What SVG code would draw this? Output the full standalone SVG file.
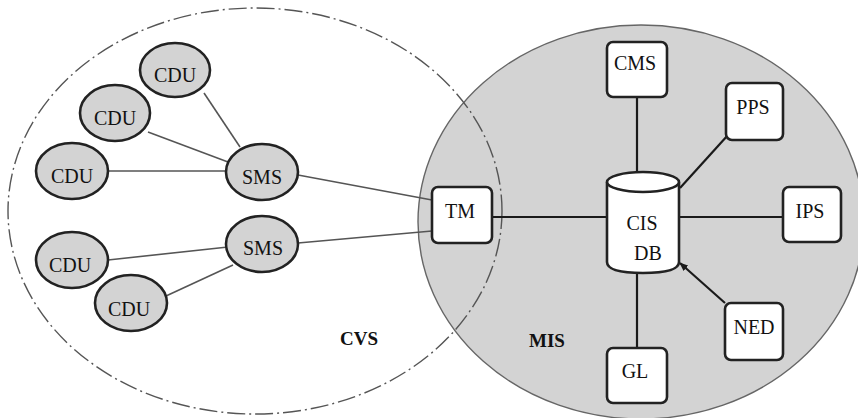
<svg xmlns="http://www.w3.org/2000/svg" width="858" height="418" viewBox="0 0 858 418">
  <style>
    .unit { fill: #d3d3d3; stroke: #222; stroke-width: 2.6; }
    .box { fill: #fff; stroke: #222; stroke-width: 2.6; }
    .thin { stroke: #555; stroke-width: 1.6; fill: none; }
    .thick { stroke: #1a1a1a; stroke-width: 2.2; fill: none; }
  </style>
  <defs>
    <marker id="tip" viewBox="0 0 10 10" refX="9" refY="5" markerWidth="4" markerHeight="4" orient="auto">
      <path d="M0,1 L10,5 L0,9 Z" fill="#1a1a1a"/>
    </marker>
  </defs>

  <rect width="858" height="418" fill="#fff"/>

  <!-- MIS zone -->
  <ellipse id="mis-zone" cx="641" cy="222" rx="223" ry="197" fill="#d3d3d3" stroke="#666" stroke-width="1.4"/>
  <!-- CVS zone -->
  <ellipse id="cvs-zone" cx="255" cy="211" rx="247" ry="203" fill="none" stroke="#555" stroke-width="1.4" stroke-dasharray="18 4 2 4"/>

  <g font-family="Liberation Serif" font-size="19" font-weight="bold" fill="#111" text-anchor="middle">
    <text x="359" y="345">CVS</text>
    <text x="547" y="347">MIS</text>
  </g>

  <!-- connectors -->
  <g id="connectors">
    <line class="thin" x1="204" y1="93" x2="240" y2="147"/>
    <line class="thin" x1="148" y1="132" x2="228" y2="162"/>
    <line class="thin" x1="108" y1="171" x2="226" y2="171"/>
    <line class="thin" x1="298" y1="175" x2="432" y2="200"/>
    <line class="thin" x1="298" y1="243" x2="432" y2="231"/>
    <line class="thin" x1="108" y1="260" x2="228" y2="247"/>
    <line class="thin" x1="166" y1="296" x2="233" y2="265"/>

    <line class="thick" x1="492" y1="217" x2="607" y2="217"/>
    <line class="thick" x1="637" y1="97" x2="637" y2="173"/>
    <line class="thick" x1="728" y1="135" x2="680" y2="188"/>
    <line class="thick" x1="679" y1="217" x2="783" y2="217"/>
    <line class="thick" x1="725" y1="303" x2="680" y2="263" marker-end="url(#tip)"/>
    <line class="thick" x1="637" y1="272" x2="637" y2="348"/>
  </g>

  <g font-family="Liberation Serif" font-size="20" fill="#111" text-anchor="middle">
    <!-- CVS units -->
    <g id="cdu-1"><ellipse class="unit" cx="175" cy="70" rx="35" ry="27"/><text x="175" y="82">CDU</text></g>
    <g id="cdu-2"><ellipse class="unit" cx="115" cy="113" rx="35" ry="28"/><text x="115" y="125">CDU</text></g>
    <g id="cdu-3"><ellipse class="unit" cx="72" cy="171" rx="36" ry="28"/><text x="72" y="183">CDU</text></g>
    <g id="cdu-4"><ellipse class="unit" cx="72" cy="260" rx="36" ry="28"/><text x="70" y="272">CDU</text></g>
    <g id="cdu-5"><ellipse class="unit" cx="131" cy="303" rx="36" ry="28"/><text x="129" y="316">CDU</text></g>
    <g id="sms-1"><ellipse class="unit" cx="262" cy="172" rx="36" ry="28"/><text x="262" y="184">SMS</text></g>
    <g id="sms-2"><ellipse class="unit" cx="262" cy="244" rx="36" ry="28"/><text x="263" y="255">SMS</text></g>

    <!-- MIS modules -->
    <g id="tm"><rect class="box" x="432" y="187" width="60" height="56" rx="6"/><text x="460" y="218">TM</text></g>
    <g id="cms"><rect class="box" x="607" y="42" width="60" height="55" rx="6"/><text x="635" y="70">CMS</text></g>
    <g id="pps"><rect class="box" x="726" y="83" width="57" height="57" rx="6"/><text x="753" y="114">PPS</text></g>
    <g id="ips"><rect class="box" x="783" y="187" width="58" height="55" rx="6"/><text x="810" y="218">IPS</text></g>
    <g id="ned"><rect class="box" x="725" y="303" width="58" height="57" rx="6"/><text x="754" y="334">NED</text></g>
    <g id="gl"><rect class="box" x="607" y="348" width="60" height="55" rx="6"/><text x="635" y="378">GL</text></g>

    <!-- central database -->
    <g id="cis-db">
      <path class="box" d="M607,182 L607,262 Q607,273 643,273 Q679,273 679,262 L679,182"/>
      <ellipse class="box" cx="643" cy="182" rx="36" ry="10"/>
      <text x="642" y="230">CIS</text>
      <text x="648" y="260">DB</text>
    </g>
  </g>
</svg>
